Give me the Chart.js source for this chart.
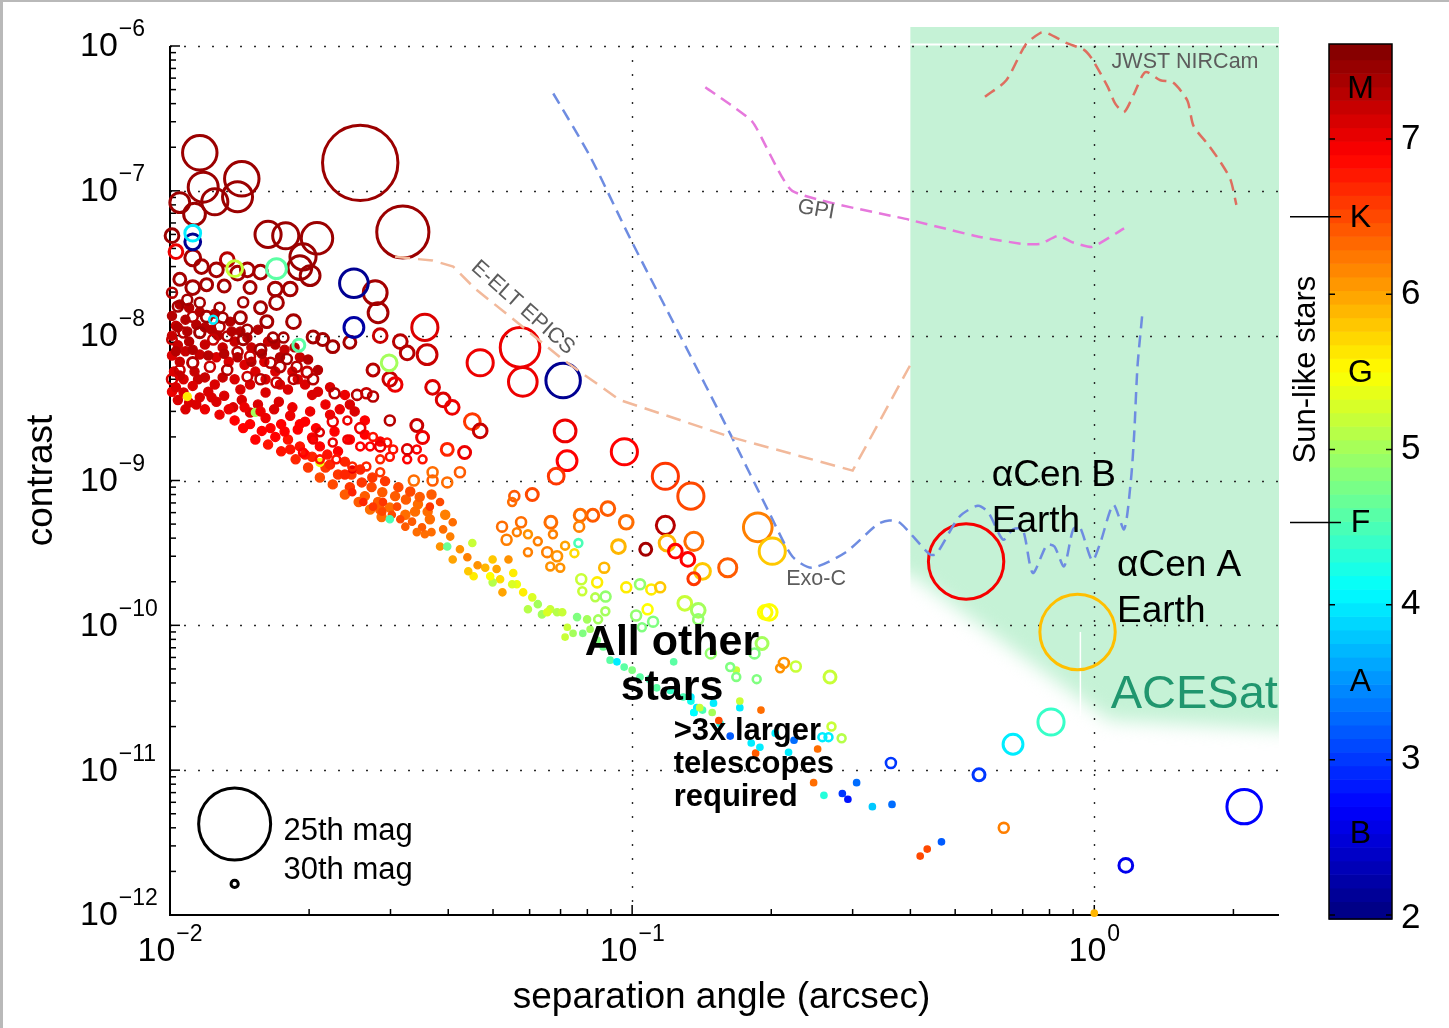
<!DOCTYPE html>
<html><head><meta charset="utf-8">
<script src="https://cdn.jsdelivr.net/npm/chart.js@4.4.1/dist/chart.umd.min.js"></script>
<style>
html,body{margin:0;padding:0;background:#fff;}
#wrap{position:relative;width:1449px;height:1028px;overflow:hidden;}
canvas{display:block;}
</style></head><body>
<div id="wrap"><canvas id="c" width="1449" height="1028" style="width:1449px;height:1028px"></canvas></div>
<script>
// ---------------- DATA ----------------
// each row: [separation (arcsec), contrast, colour index (spectral scale 2..7.6), magnitude]
const circlesM = [
[0.0116,1.83e-7,7.45,26.6],[0.0258,1.56e-7,7.45,24.9],[0.0118,1.06e-7,7.45,26.9],[0.0143,1.21e-7,7.45,26.6],
[0.0140,9.1e-8,7.45,26.9],[0.0125,8.4e-8,7.45,27.2],[0.0105,8.3e-8,7.45,27.8],[0.0113,6.9e-8,7.45,27.6],
[0.0319,5.2e-8,7.45,25.7],[0.0101,4.9e-8,7.45,28.6],[0.0163,5.0e-8,7.45,27.2],[0.0178,4.9e-8,7.45,27.2],
[0.0208,4.7e-8,7.45,26.8],[0.0194,3.5e-8,7.45,27.2],[0.0191,2.95e-8,7.45,27.4],[0.0201,2.6e-8,7.45,27.8],
[0.0112,3.45e-8,7.4,28.3],[0.0117,3.0e-8,7.4,28.6],[0.0126,2.85e-8,7.4,28.6],[0.0133,3.35e-8,7.3,28.6],
[0.0147,2.85e-8,7.4,28.6],[0.0157,2.75e-8,7.4,28.6],[0.0149,2.15e-8,7.4,28.9],[0.0140,2.7e-8,7.4,28.6],
[0.0105,2.45e-8,7.4,28.9],[0.0112,2.15e-8,7.4,28.6],[0.0120,2.25e-8,7.4,28.9],[0.0131,2.2e-8,7.4,28.9],
[0.0169,2.1e-8,7.4,28.6],[0.0182,2.1e-8,7.4,28.6],[0.0170,1.69e-8,7.4,28.6],[0.0157,1.56e-8,7.4,28.9],
[0.0144,1.7e-8,7.4,29.3],[0.0128,1.56e-8,7.4,29.3],[0.0116,1.69e-8,7.4,29.3],[0.0109,1.77e-8,7.4,29.3],
[0.0101,1.98e-8,7.3,29.3],[0.0185,1.25e-8,7.4,28.6],[0.0162,1.25e-8,7.4,28.9],[0.0142,1.33e-8,7.4,28.9],
[0.0130,1.33e-8,7.4,29.3],[0.0147,1.1e-8,7.4,29.3],[0.0167,9.7e-9,7.4,29.3],[0.0176,9.7e-9,7.4,29.3],
[0.0204,9.8e-9,7.4,28.9],[0.0214,9.4e-9,7.4,28.9],[0.0225,8.4e-9,7.4,28.9],[0.0245,9.0e-9,7.4,28.9],
[0.0278,1.98e-8,7.4,27.4],[0.0282,1.44e-8,7.4,27.8],[0.0285,1.0e-8,7.2,28.6],[0.0315,9.1e-9,7.3,28.6],
[0.0326,7.6e-9,7.3,28.6],[0.0356,1.14e-8,7.1,27.2],[0.0360,7.4e-9,7.2,27.8],[0.0299,5.0e-9,7.2,28.6],
[0.0307,4.6e-9,7.0,28.6],[0.0275,5.8e-9,7.3,28.9],[0.0370,4.4e-9,7.1,28.6],[0.0390,3.6e-9,7.1,28.6],
[0.0408,3.2e-9,7.0,28.6],[0.0469,6.5e-9,7.0,27.2],[0.0451,2.55e-9,6.6,28.3],[0.0469,2.2e-9,7.2,28.6],
[0.0434,1.56e-9,7.0,28.9],[0.0398,1.64e-9,6.7,28.9],[0.0342,2.4e-9,7.2,28.9],[0.0352,1.98e-9,7.0,28.9],
[0.0299,2.6e-9,7.3,29.3],[0.0285,1.72e-9,7.0,29.3],[0.0326,1.64e-9,7.1,29.3],[0.0370,1.14e-9,6.3,29.3],
[0.0103,3.8e-8,7.0,28.6]
];
const circlesOther = [
[0.0112,4.45e-8,2.1,28.3],[0.0250,2.3e-8,2.1,27.0],[0.0250,1.14e-8,2.2,27.8],[0.0112,5.1e-8,4.0,28.3],
[0.0124,1.29e-8,4.0,29.8],[0.0170,2.9e-8,4.6,27.8],[0.0190,8.6e-9,4.6,28.9],[0.0138,2.9e-8,5.2,28.3],
[0.0298,6.5e-9,5.0,28.3],[0.0572,8.3e-9,7.0,26.3],[0.0580,4.8e-9,7.0,27.0],[0.0709,4.9e-9,2.1,26.6],
[0.0716,2.2e-9,7.0,27.6],[0.0723,1.37e-9,6.9,27.8],[0.0962,1.58e-9,6.9,27.2],[0.0685,1.07e-9,6.6,28.3],
[0.118,1.07e-9,6.6,27.2],[0.134,7.8e-10,6.5,27.2],[0.187,4.75e-10,6.2,27.0],[0.201,3.25e-10,5.8,27.2],
[0.136,3.8e-10,6.3,28.0],[0.118,4.9e-10,7.3,28.0],[0.119,3.7e-10,5.9,28.3],[0.124,3.25e-10,6.9,28.6],
[0.132,2.85e-10,6.9,28.6],[0.142,2.36e-10,5.8,28.3],[0.136,2.1e-10,6.6,28.9],[0.161,2.5e-10,6.4,28.0],
[0.107,3.35e-10,7.4,28.9],[0.0934,3.5e-10,5.9,28.6],[0.0886,6.4e-10,6.4,28.6],[0.0971,5.15e-10,6.3,28.6],
[0.0822,5.75e-10,6.4,28.9],[0.0772,5.75e-10,6.3,28.9],[0.0768,4.8e-10,6.2,29.3],[0.0608,8.0e-10,6.5,28.9],
[0.0556,7.8e-10,6.4,29.3],[0.0550,7.1e-10,6.3,29.8],[0.0667,5.15e-10,6.3,28.9],[0.0674,4.25e-10,6.2,29.8],
[0.0575,5.15e-10,6.3,29.3],[0.0523,4.8e-10,6.3,29.3],[0.0535,3.9e-10,6.2,29.3],[0.0563,4.4e-10,6.2,29.8],
[0.0595,4.25e-10,6.1,29.8],[0.0625,3.8e-10,6.2,29.8],[0.0655,3.2e-10,6.2,29.3],[0.0595,3.2e-10,6.2,29.8],
[0.0688,3.0e-10,6.1,29.3],[0.0665,2.55e-10,6.1,29.8],[0.0699,2.5e-10,6.1,29.8],[0.0765,3.7e-10,4.5,29.8],
[0.0716,3.55e-10,6.0,29.8],[0.0750,3.15e-10,5.7,29.8],[0.0870,2.5e-10,5.9,29.3],[0.0840,1.98e-10,5.6,29.3],
[0.0776,2.08e-10,5.2,29.3],[0.0780,1.72e-10,5.2,29.8],[0.0832,1.56e-10,5.1,29.8],[0.0876,1.58e-10,4.9,29.3],
[0.0971,1.83e-10,5.6,29.3],[0.104,1.92e-10,4.9,29.3],[0.110,1.77e-10,5.6,29.3],[0.115,1.83e-10,5.8,29.3],
[0.130,1.42e-10,5.2,28.6],[0.139,1.27e-10,5.0,28.6],[0.198,1.23e-10,5.5,28.3],[0.194,1.23e-10,5.5,28.6],
[0.139,1.1e-10,4.9,29.3],[0.108,1.29e-10,5.5,29.3],[0.102,1.17e-10,4.9,29.3],[0.111,1.06e-10,4.8,29.3],
[0.105,9.7e-11,4.8,29.8],[0.0844,1.1e-10,5.0,29.8],[0.0875,1.25e-10,5.0,29.8],[0.191,7.5e-11,5.0,28.9],
[0.184,6.4e-11,4.8,29.3],[0.213,5.5e-11,6.1,29.3],[0.209,5.05e-11,6.1,29.8],[0.226,5.2e-11,5.2,29.3],
[0.163,5.15e-11,4.8,29.8],[0.168,4.4e-11,4.8,29.8],[0.186,4.25e-11,4.8,29.8],[0.148,6.4e-11,4.9,29.3],
[0.268,4.4e-11,5.2,28.9],[0.284,1.66e-11,5.1,29.8],[0.270,2.0e-11,5.2,29.8],[0.258,1.69e-11,4.0,29.8],
[0.266,1.69e-11,4.0,29.8],[0.667,1.51e-11,4.0,27.8],[0.806,2.15e-11,4.4,27.2],[0.563,9.3e-12,3.0,28.9],
[0.363,1.12e-11,3.0,29.3],[0.637,4.0e-12,6.2,29.3],[2.11,5.6e-12,2.7,26.6],[1.17,2.2e-12,2.6,28.6]
];
const alphaCen = [[0.528,2.76e-10,6.95,24.9],[0.92,9.0e-11,5.85,24.9]];
const clusterCircles = [
[0.0104,1.59e-8,7.4,29.3],[0.0112,1.35e-8,7.3,29.3],[0.0120,1.35e-8,7.4,29.1],[0.0128,1.15e-8,7.3,29.3],
[0.0133,9.9e-9,7.3,29.4],[0.0124,9.4e-9,7.2,29.3],[0.0116,1.05e-8,7.4,29.2],[0.0107,1.05e-8,7.3,29.3],
[0.0101,9.4e-9,7.2,29.4],[0.0144,9.4e-9,7.4,29.2],[0.0140,7.7e-9,7.3,29.3],[0.0149,7.2e-9,7.2,29.3],
[0.0157,8.0e-9,7.4,29.1],[0.0165,6.5e-9,7.3,29.3],[0.0173,6.1e-9,7.3,29.2],[0.0179,6.9e-9,7.4,29.3],
[0.0188,6.1e-9,7.3,29.3],[0.0198,5.6e-9,7.2,29.2],[0.0204,5.0e-9,7.3,29.3],[0.0185,5.0e-9,7.3,29.4],
[0.0170,4.75e-9,7.2,29.3],[0.0157,5.0e-9,7.3,29.3],[0.0147,5.2e-9,7.2,29.4],[0.0133,5.8e-9,7.3,29.3],
[0.0122,6.1e-9,7.2,29.3],[0.0112,6.5e-9,7.3,29.2],[0.0105,5.8e-9,7.2,29.4],[0.0101,5.0e-9,7.1,29.3],
[0.0254,3.9e-9,7.3,29.3],[0.0266,4.0e-9,7.2,29.3],[0.0275,3.8e-9,7.3,29.3],[0.0227,4.0e-9,7.3,29.3],
[0.0225,2.55e-9,7.0,29.3],[0.0242,2.6e-9,7.0,29.8],[0.0258,2.3e-9,7.0,29.3],[0.0275,2.0e-9,6.8,29.8],
[0.0295,1.83e-9,6.8,29.8],[0.0304,1.64e-9,6.8,29.8],[0.0342,1.64e-9,6.9,29.8],[0.0352,1.40e-9,6.8,29.8],
[0.0326,1.40e-9,6.9,29.8],[0.0299,1.46e-9,6.8,29.8],[0.0285,1.40e-9,6.7,29.8],[0.0271,1.72e-9,6.9,29.8],
[0.0258,1.72e-9,6.9,29.8],[0.0242,1.92e-9,7.0,29.8],[0.0225,1.83e-9,7.0,29.8],[0.0211,2.15e-9,7.1,29.8],
[0.0204,1.92e-9,7.0,29.8],[0.0194,1.56e-9,6.9,29.8],[0.0211,1.40e-9,6.8,29.8],[0.0229,1.40e-9,6.8,29.8],
[0.0248,1.25e-9,6.7,29.8],[0.0266,1.25e-9,6.7,29.8],[0.0285,1.14e-9,6.6,29.8],[0.0337,1.0e-9,6.3,29.3],
[0.0370,1.0e-9,6.4,29.3],[0.0424,1.14e-9,6.4,29.3],[0.0398,9.7e-10,6.3,29.3]
];
// faint stars, drawn as filled dots
const clusterDotsUpper = [
[0.0101,1.37e-8,7.3,29.5],[0.0103,1.17e-8,7.2,29.5],[0.0101,1.0e-8,7.2,29.5],[0.0104,8.6e-9,7.2,29.5],
[0.0101,7.3e-9,7.1,29.5],[0.0105,6.6e-9,7.2,29.5],[0.0102,5.65e-9,7.1,29.5],[0.0108,7.8e-9,7.2,29.5],
[0.0110,9.1e-9,7.3,29.5],[0.0114,1.19e-8,7.3,29.5],[0.0116,7.4e-9,7.2,29.5],[0.0119,8.7e-9,7.2,29.5],
[0.0123,1.10e-8,7.3,29.5],[0.0126,7.1e-9,7.1,29.5],[0.0130,8.3e-9,7.2,29.5],[0.0134,6.6e-9,7.1,29.5],
[0.0138,9.1e-9,7.2,29.5],[0.0142,1.07e-8,7.3,29.5],[0.0145,6.3e-9,7.1,29.5],[0.0150,8.3e-9,7.2,29.5],
[0.0153,5.65e-9,7.1,29.5],[0.0160,6.6e-9,7.1,29.5],[0.0163,9.1e-9,7.2,29.5],[0.0169,5.65e-9,7.1,29.5],
[0.0177,8.0e-9,7.2,29.5],[0.0184,5.65e-9,7.1,29.5],[0.0191,7.1e-9,7.2,29.5],[0.0196,4.6e-9,7.1,29.5],
[0.0209,4.1e-9,7.1,29.5],[0.0217,3.35e-9,7.0,29.5],[0.0233,3.1e-9,7.0,29.5],[0.0245,3.35e-9,7.1,29.5],
[0.0180,4.25e-9,7.1,29.5],[0.0161,4.05e-9,7.1,29.5],[0.0142,4.25e-9,7.1,29.5],[0.0125,4.6e-9,7.1,29.5],
[0.0115,5.0e-9,7.2,29.5],[0.0107,5.0e-9,7.1,29.5],[0.0101,4.1e-9,7.0,29.5]
];
const clusterDotsLower = [
[0.0103,4.4e-9,7.1,29.5],[0.0107,4.05e-9,7.1,29.5],[0.0112,4.5e-9,7.1,29.5],[0.0116,3.75e-9,7.1,29.5],
[0.0121,4.1e-9,7.1,29.5],[0.0126,3.5e-9,7.1,29.5],[0.0131,3.85e-9,7.1,29.5],[0.0137,3.2e-9,7.1,29.5],
[0.0143,3.6e-9,7.1,29.5],[0.0149,2.95e-9,7.1,29.5],[0.0155,3.35e-9,7.1,29.5],[0.0161,2.7e-9,7.0,29.5],
[0.0168,3.1e-9,7.1,29.5],[0.0174,2.45e-9,6.9,29.5],[0.0182,2.8e-9,7.0,29.5],[0.0189,2.25e-9,6.9,29.5],
[0.0196,2.55e-9,6.9,29.5],[0.0203,1.98e-9,6.9,29.5],[0.0211,1.72e-9,6.9,29.5],[0.0219,1.51e-9,6.8,29.5],
[0.0231,1.59e-9,6.9,29.5],[0.0239,1.35e-9,6.7,29.5],[0.0247,1.10e-9,6.6,29.5],[0.0260,9.7e-10,6.6,29.5],
[0.0273,9.0e-10,6.5,29.5],[0.0288,8.3e-10,6.4,29.5],[0.0307,7.8e-10,6.4,29.5],[0.0324,7.4e-10,6.4,29.5],
[0.0344,6.85e-10,6.3,29.5],[0.0361,6.1e-10,6.3,29.5],[0.0245,9.0e-10,6.6,29.5],[0.0264,7.8e-10,6.4,29.5],
[0.0282,7.1e-10,6.4,29.5],[0.0299,6.5e-10,6.3,29.5],[0.0149,2.45e-9,6.9,29.5],[0.0158,2.2e-9,6.9,29.5],
[0.0169,2.0e-9,6.9,29.5],[0.0180,1.92e-9,6.8,29.5],[0.0191,1.72e-9,6.8,29.5],[0.0203,1.46e-9,6.7,29.5],
[0.0217,1.23e-9,6.6,29.5],[0.0231,1.10e-9,6.6,29.5],[0.0138,2.6e-9,6.9,29.5],[0.0128,2.85e-9,7.0,29.5],
[0.0119,3.1e-9,7.0,29.5],[0.0110,3.45e-9,7.1,29.5],[0.0104,3.6e-9,7.1,29.5],[0.0163,1.77e-9,6.8,29.5],
[0.0174,1.59e-9,6.8,29.5],[0.0187,1.40e-9,6.7,29.5],[0.0199,1.23e-9,6.6,29.5],[0.0211,1.05e-9,6.5,29.5],
[0.0225,9.4e-10,6.5,29.5],[0.0239,8.0e-10,6.4,29.5],[0.0256,7.1e-10,6.4,29.5],[0.0271,6.3e-10,6.3,29.5],
[0.0287,5.6e-10,6.3,29.5],[0.0211,1.33e-9,5.4,29.8],[0.0153,2.95e-9,5.0,29.8],[0.0109,3.8e-9,5.6,29.8]
];
const clusterDotsExtra = [
[0.0105,1.64e-8,7.3,29.5],[0.0110,1.56e-8,7.3,29.5],[0.0116,1.46e-8,7.3,29.5],[0.0125,1.42e-8,7.3,29.5],
[0.0135,1.25e-8,7.3,29.5],[0.0108,1.29e-8,7.3,29.5],[0.0104,1.14e-8,7.3,29.5],[0.0109,1.07e-8,7.3,29.5],
[0.0119,1.14e-8,7.3,29.5],[0.0127,1.0e-8,7.3,29.5],[0.0136,1.07e-8,7.3,29.5],[0.0147,9.7e-9,7.3,29.5],
[0.0155,1.10e-8,7.3,29.5],[0.0169,8.7e-9,7.3,29.5],[0.0103,7.8e-9,7.3,29.5],[0.0112,8.0e-9,7.3,29.5],
[0.0121,7.3e-9,7.3,29.5],[0.0131,7.5e-9,7.3,29.5],[0.0140,7.1e-9,7.3,29.5],[0.0150,6.6e-9,7.3,29.5],
[0.0158,7.5e-9,7.3,29.5],[0.0173,7.1e-9,7.3,29.5],[0.0186,8.3e-9,7.3,29.5],[0.0199,6.85e-9,7.3,29.5],
[0.0209,5.8e-9,7.3,29.5],[0.0105,5.3e-9,7.2,29.5],[0.0113,5.65e-9,7.2,29.5],[0.0119,5.15e-9,7.2,29.5],
[0.0130,5.15e-9,7.2,29.5],[0.0138,5.0e-9,7.1,29.5],[0.0149,4.6e-9,7.1,29.5],[0.0161,5.0e-9,7.1,29.5],
[0.0173,4.6e-9,7.1,29.5],[0.0189,5.0e-9,7.1,29.5],[0.0203,3.9e-9,7.1,29.5],[0.0222,4.4e-9,7.1,29.5],
[0.0239,3.9e-9,7.0,29.5],[0.0108,3.1e-9,7.1,29.5],[0.0114,3.35e-9,7.1,29.5],[0.0123,3.75e-9,7.1,29.5],
[0.0134,3.1e-9,7.0,29.5],[0.0145,3.2e-9,7.0,29.5],[0.0157,3.0e-9,7.0,29.5],[0.0172,3.5e-9,7.1,29.5],
[0.0184,3.2e-9,7.0,29.5],[0.0201,3.0e-9,7.0,29.5],[0.0222,2.85e-9,7.0,29.5],[0.0251,3.0e-9,7.1,29.5],
[0.0264,2.6e-9,6.9,29.5],[0.0144,2.3e-9,6.9,29.5],[0.0153,1.92e-9,6.9,29.5],[0.0165,2.3e-9,6.9,29.5],
[0.0177,2.18e-9,6.9,29.5],[0.0191,2.45e-9,6.9,29.5],[0.0207,2.3e-9,6.9,29.5],[0.0227,2.18e-9,6.9,29.5],
[0.0245,1.92e-9,6.9,29.5],[0.0264,2.08e-9,6.9,29.5],[0.0285,1.86e-9,6.9,29.5],[0.0182,1.64e-9,6.8,29.5],
[0.0196,1.51e-9,6.8,29.5],[0.0222,1.29e-9,6.7,29.5],[0.0239,1.10e-9,6.7,29.5],[0.0258,1.19e-9,6.7,29.5],
[0.0274,1.05e-9,6.6,29.5],[0.0292,9.9e-10,6.6,29.5],[0.0312,9.0e-10,6.5,29.5],[0.0331,8.4e-10,6.5,29.5],
[0.0347,7.7e-10,6.4,29.5],[0.0368,8.0e-10,6.4,29.5],[0.0323,5.8e-10,6.3,29.5],[0.0339,6.1e-10,6.3,29.5],
[0.0365,5.4e-10,6.3,29.5],[0.0394,5.8e-10,6.2,29.5],[0.0285,6.3e-10,6.4,29.5]
];
const bandDots = [
[0.0595,1.29e-10,5.1,30.0],[0.0608,1.56e-10,5.3,30.0],[0.0625,1.40e-10,5.0,30.0],[0.0638,1.19e-10,5.0,30.0],
[0.0665,1.29e-10,5.2,30.0],[0.0688,1.23e-10,5.1,30.0],[0.0563,1.92e-10,5.4,30.0],[0.0581,1.69e-10,5.6,30.0],
[0.0553,2.3e-10,5.6,30.0],[0.0524,1.69e-10,6.0,30.0],[0.0540,2.85e-10,6.1,30.0],[0.0518,2.08e-10,5.7,30.0],
[0.0509,2.45e-10,6.0,30.0],[0.0499,1.98e-10,5.1,30.0],[0.0493,2.18e-10,5.5,30.0],[0.0481,2.5e-10,5.9,30.0],
[0.0463,2.6e-10,6.1,30.0],[0.0454,2.18e-10,5.6,30.0],[0.0442,2.36e-10,5.8,30.0],[0.0440,2.95e-10,6.2,30.0],
[0.0424,3.35e-10,6.1,30.0],[0.0409,2.85e-10,6.0,30.0],[0.0404,4.1e-10,6.2,30.0],[0.0390,4.6e-10,6.3,30.0],
[0.0384,3.5e-10,6.1,30.0],[0.0409,5.15e-10,6.3,30.0],[0.0368,4.4e-10,6.3,30.0],[0.0356,4.25e-10,6.3,30.0],
[0.0351,4.75e-10,6.4,30.0],[0.0342,4.4e-10,6.3,30.0],[0.0334,5.2e-10,6.4,30.0],[0.0323,4.8e-10,6.4,30.0],
[0.0315,5.4e-10,6.5,30.0],[0.0302,5.8e-10,6.5,30.0],[0.0310,6.6e-10,6.5,30.0],[0.0289,7.1e-10,6.6,30.0],
[0.0288,6.1e-10,6.5,30.0],[0.0275,6.6e-10,6.6,30.0],[0.0262,7.1e-10,6.7,30.0],[0.0248,8.3e-10,6.7,30.0],
[0.0248,1.19e-9,7.0,30.0],[0.0365,6.6e-10,6.6,30.0],[0.0384,7.1e-10,6.5,30.0],[0.0299,5.4e-10,4.5,30.0],
[0.0398,3.5e-10,4.7,30.0],[0.0451,3.7e-10,5.2,30.0],[0.0499,2.85e-10,5.8,30.0],[0.0550,1.92e-10,5.3,30.0],
[0.0655,1.23e-10,5.3,30.0],[0.0706,1.23e-10,5.2,30.0],[0.0760,1.14e-10,4.8,30.0],[0.0799,1.10e-10,5.0,30.0]
];
const blueGreenDots = [
[0.0896,5.75e-11,4.6,30.3],[0.0927,5.6e-11,4.0,30.3],[0.0961,5.15e-11,4.6,30.3],[0.100,4.9e-11,4.8,30.3],
[0.104,4.4e-11,4.6,30.3],[0.109,4.25e-11,4.5,30.3],[0.113,3.7e-11,4.6,30.3],[0.121,3.55e-11,4.4,30.3],
[0.129,3.2e-11,4.5,30.3],[0.134,3.0e-11,4.2,30.3],[0.138,2.7e-11,4.0,30.3],[0.136,2.5e-11,4.0,30.3],
[0.142,2.6e-11,4.5,30.3],[0.149,2.5e-11,5.0,30.3],[0.155,2.1e-11,4.2,30.3],[0.0724,9.7e-11,5.2,30.3],
[0.0745,8.8e-11,5.0,30.3],[0.0716,8.3e-11,5.2,30.3],[0.0782,8.8e-11,4.8,30.3],[0.0811,9.4e-11,5.0,30.3],
[0.0840,7.9e-11,4.8,30.3],[0.0866,7.1e-11,4.7,30.3],
[0.42,2.55e-12,6.5,30.3],[0.435,2.85e-12,6.5,30.3],[0.467,3.2e-12,3.2,30.3],[0.365,5.8e-12,3.3,30.3],
[0.331,5.6e-12,3.8,30.3],[0.293,6.3e-12,2.8,30.3],[0.285,6.9e-12,3.0,30.3],[0.306,8.2e-12,3.3,30.3],
[0.26,6.7e-12,4.3,30.3],[0.247,8.2e-12,6.3,30.3],[0.252,1.4e-11,6.3,30.3],[0.218,1.33e-11,4.0,30.3],
[0.224,1.61e-11,3.3,30.3],[0.19,2.6e-11,6.3,30.3],[0.171,2.7e-11,4.0,30.3],[0.154,2.2e-11,6.5,30.3],
[0.163,1.72e-11,3.2,30.3],[0.181,1.54e-11,4.0,30.3],[0.185,1.31e-11,6.4,30.3],[0.189,1.44e-11,4.0,30.3],
[0.204,1.8e-11,4.0,30.3],[0.171,3.0e-11,5.2,30.3],[0.136,2.5e-11,4.1,30.3],[0.140,2.7e-11,5.2,30.3],
[0.123,5.6e-11,4.6,30.3],[0.134,3.2e-11,4.0,30.3],[0.150,2.9e-11,4.0,30.3],[0.168,4.9e-11,5.2,30.3],
[1.0,1.03e-12,5.9,30.3]
];
// instrument contrast curves
const jwstSep = [0.58,0.645,0.71,0.764,0.79,0.87,0.95,0.99,1.07,1.11,1.16,1.22,1.29,1.39,1.48,1.59,1.64,1.76,1.87,1.97,2.03];
const jwstCon = [4.46e-7,5.8e-7,1.02e-6,1.23e-6,1.23e-6,1.05e-6,9.4e-7,8.1e-7,5.2e-7,4.0e-7,3.5e-7,4.7e-7,6.6e-7,5.8e-7,5.6e-7,4.2e-7,2.8e-7,2.1e-7,1.6e-7,1.2e-7,8.0e-8];
const gpiSep = [0.144,0.182,0.222,0.399,0.566,0.70,0.764,0.835,0.90,0.99,1.16];
const gpiCon = [5.2e-7,3.0e-7,1.0e-7,6.3e-8,4.8e-8,4.3e-8,4.3e-8,4.9e-8,4.4e-8,4.1e-8,5.5e-8];
const epicsSep = [0.0307,0.037,0.041,0.0458,0.0545,0.071,0.094,0.163,0.30,0.399];
const epicsCon = [3.5e-8,3.3e-8,3.0e-8,2.1e-8,1.35e-8,6.8e-9,3.6e-9,2.0e-9,1.17e-9,6.2e-9];
const exocSep = [0.0675,0.081,0.099,0.127,0.163,0.199,0.222,0.245,0.29,0.34,0.36,0.38,0.44,0.455,0.51,0.56,0.59,0.635,0.667,0.70,0.736,0.79,0.82,0.86,0.90,0.93,0.99,1.03,1.10,1.16,1.20,1.22,1.24,1.27];
const exocCon = [4.7e-7,1.74e-7,4.7e-8,1.0e-8,2.1e-9,5.8e-10,3.0e-10,2.5e-10,3.2e-10,5.0e-10,5.3e-10,5.1e-10,3.1e-10,3.1e-10,5.6e-10,6.7e-10,6.0e-10,3.9e-10,4.6e-10,4.6e-10,2.3e-10,3.6e-10,3.5e-10,2.55e-10,4.6e-10,4.8e-10,2.8e-10,3.7e-10,6.8e-10,4.6e-10,1.0e-9,2.1e-9,6.1e-9,1.4e-8];
// ACESat region outline (sep, contrast)
const acesatSep = [0.40,2.51,2.51,1.08,0.40];
const acesatCon = [1.35e-6,1.35e-6,1.9e-11,2.2e-11,2.25e-10];
// axes
const xMin = 0.01, xMax = 2.51, yMin = 1e-12, yMax = 1e-6;
const xDecades = [-2,-1,0];
const yDecades = [-12,-11,-10,-9,-8,-7,-6];
// colour bar
const cbMin = 2, cbMax = 7.6;
const cbTicks = [2,3,4,5,6,7];
const spectralLabels = ['B','A','F','G','K','M'];
const spectralPos = [2.53,3.51,4.53,5.5,6.5,7.33];
const sunLikeBounds = [4.53,6.5];
const legendMags = [25,30];

// ---------------- HELPERS ----------------
const FONT = '"Liberation Sans", Arial, Helvetica, sans-serif';
function c01(v){return Math.max(0,Math.min(1,v));}
function jet(v){
  const t = c01((v-cbMin)/(cbMax-cbMin));
  const r=c01(1.5-Math.abs(4*t-3)), g=c01(1.5-Math.abs(4*t-2)), b=c01(1.5-Math.abs(4*t-1));
  return 'rgb('+Math.round(r*255)+','+Math.round(g*255)+','+Math.round(b*255)+')';
}
function radiusOf(mag){ return 36*Math.pow(10,-0.2*(mag-25)); }
function pts(xs,ys){ return xs.map((x,i)=>({x:x,y:ys[i]})); }
function borderW(d){ return d.f ? 1.4 : (radiusOf(d.m)<5 ? 2.6 : 3); }
const toStar = f => r => ({x:r[0],y:r[1],t:r[2],m:r[3],f:f});

const stars = [].concat(
  [clusterDotsUpper, clusterDotsLower, clusterDotsExtra, bandDots, blueGreenDots].flat().map(toStar(true)),
  [clusterCircles, circlesM, circlesOther, alphaCen].flat().map(toStar(false)));

function expStr(e){ return e<0 ? '\u2212'+(-e) : String(e); }

const decor = {
  id:'decor',
  beforeDraw(chart){
    const ctx=chart.ctx; ctx.save();
    ctx.fillStyle='#fff'; ctx.fillRect(0,0,chart.width,chart.height);
    ctx.fillStyle='#b9b9b9'; ctx.fillRect(0,0,chart.width,2); ctx.fillRect(0,0,3,chart.height);
    ctx.restore();
  },
  beforeDatasetsDraw(chart){
    const ctx=chart.ctx, a=chart.chartArea, X=chart.scales.x, Y=chart.scales.y;
    const px=acesatSep.map(v=>X.getPixelForValue(v)), py=acesatCon.map(v=>Y.getPixelForValue(v));
    const xL=px[0], xR=px[1], yT=py[0];
    ctx.save();
    ctx.beginPath(); ctx.rect(xL,yT,xR-xL,a.bottom-yT); ctx.clip();
    ctx.filter='blur(9px)';
    ctx.fillStyle='#c5f2d6';
    ctx.beginPath();
    ctx.moveTo(xL-60,yT-60); ctx.lineTo(xR+60,yT-60); ctx.lineTo(xR+60,py[2]);
    ctx.lineTo(px[2],py[2]); ctx.lineTo(px[3],py[3]); ctx.lineTo(px[4],py[4]); ctx.lineTo(xL-60,py[4]);
    ctx.closePath(); ctx.fill();
    ctx.restore();
    // white artefact lines
    ctx.save();
    ctx.strokeStyle='#fff'; ctx.lineWidth=2;
    const yTop=Y.getPixelForValue(yMax);
    ctx.beginPath(); ctx.moveTo(xL,yTop-1.5); ctx.lineTo(xR,yTop-1.5); ctx.stroke();
    ctx.lineWidth=1.5;
    const wx=X.getPixelForValue(0.933);
    ctx.beginPath(); ctx.moveTo(wx,Y.getPixelForValue(9.0e-11)); ctx.lineTo(wx,Y.getPixelForValue(2.36e-11)); ctx.stroke();
    ctx.restore();
    // dotted grid
    ctx.save();
    ctx.strokeStyle='#2a2a2a'; ctx.lineWidth=1.4; ctx.setLineDash([2,12]);
    yDecades.forEach(e=>{ if(e===-12) return; const y=Math.round(Y.getPixelForValue(Math.pow(10,e)))+0.5;
      ctx.beginPath(); ctx.moveTo(a.left,y); ctx.lineTo(a.right,y); ctx.stroke(); });
    xDecades.forEach(e=>{ if(e===-2) return; const x=Math.round(X.getPixelForValue(Math.pow(10,e)))+0.5;
      ctx.beginPath(); ctx.moveTo(x,a.top); ctx.lineTo(x,a.bottom); ctx.stroke(); });
    ctx.restore();
    // axes
    ctx.save();
    ctx.strokeStyle='#000'; ctx.lineWidth=2;
    ctx.beginPath(); ctx.moveTo(a.left,a.top); ctx.lineTo(a.left,a.bottom); ctx.lineTo(a.right,a.bottom); ctx.stroke();
    ctx.lineWidth=1.5;
    for(let e=-12;e<=-6;e++){ for(let k=1;k<=9;k++){ const v=k*Math.pow(10,e); if(v>yMax*1.0001) break;
      const y=Y.getPixelForValue(v), len=(k===1)?10:6;
      ctx.beginPath(); ctx.moveTo(a.left,y); ctx.lineTo(a.left+len,y); ctx.stroke(); } }
    for(let e=-2;e<=0;e++){ for(let k=1;k<=9;k++){ const v=k*Math.pow(10,e); if(v>xMax) break;
      const x=X.getPixelForValue(v), len=(k===1)?10:6;
      ctx.beginPath(); ctx.moveTo(x,a.bottom); ctx.lineTo(x,a.bottom-len); ctx.stroke(); } }
    ctx.restore();
  },
  afterDatasetsDraw(chart){
    const ctx=chart.ctx, a=chart.chartArea, X=chart.scales.x, Y=chart.scales.y, CB=chart.scales.cb;
    const P=(x,y)=>[X.getPixelForValue(x),Y.getPixelForValue(y)];
    ctx.save();
    ctx.fillStyle='#000';
    // tick labels
    yDecades.forEach(e=>{
      const y=Y.getPixelForValue(Math.pow(10,e));
      ctx.font='34px '+FONT; ctx.textAlign='left'; ctx.textBaseline='middle';
      const x0=a.left-90; ctx.fillText('10',x0,y+1);
      const w=ctx.measureText('10').width;
      ctx.font='23px '+FONT; ctx.fillText(expStr(e),x0+w+1,y-16);
    });
    xDecades.forEach(e=>{
      const x=X.getPixelForValue(Math.pow(10,e));
      ctx.font='34px '+FONT; const w1=ctx.measureText('10').width;
      ctx.font='23px '+FONT; const w2=ctx.measureText(expStr(e)).width;
      const x0=x-(w1+1+w2)/2;
      ctx.textAlign='left'; ctx.textBaseline='middle';
      ctx.font='34px '+FONT; ctx.fillText('10',x0,a.bottom+37);
      ctx.font='23px '+FONT; ctx.fillText(expStr(e),x0+w1+1,a.bottom+20);
    });
    // axis titles
    ctx.font='37px '+FONT; ctx.textAlign='center'; ctx.textBaseline='middle';
    ctx.fillText('separation angle (arcsec)',(a.left+a.right)/2-3,a.bottom+83);
    ctx.save(); ctx.translate(a.left-128,(a.top+a.bottom)/2); ctx.rotate(-Math.PI/2); ctx.fillText('contrast',0,0); ctx.restore();
    // curve labels
    ctx.fillStyle='#5c5c5c'; ctx.font='21.5px '+FONT;
    let p=P(1.09,7.05e-7); ctx.textAlign='left'; ctx.textBaseline='alphabetic'; ctx.fillText('JWST NIRCam',p[0],p[1]);
    p=P(0.25,7.4e-8); ctx.save(); ctx.translate(p[0],p[1]); ctx.rotate(10*Math.PI/180); ctx.textAlign='center'; ctx.textBaseline='middle'; ctx.fillText('GPI',0,0); ctx.restore();
    p=P(0.058,1.56e-8); ctx.save(); ctx.translate(p[0],p[1]); ctx.rotate(41.5*Math.PI/180); ctx.textAlign='center'; ctx.textBaseline='middle'; ctx.fillText('E-ELT EPICS',0,0); ctx.restore();
    p=P(0.25,2.1e-10); ctx.textAlign='center'; ctx.textBaseline='middle'; ctx.fillText('Exo-C',p[0],p[1]);
    // annotations
    ctx.fillStyle='#000'; ctx.textBaseline='alphabetic';
    ctx.font='bold 43px '+FONT; ctx.textAlign='center';
    p=P(0.122,6.23e-11); ctx.fillText('All other',p[0],p[1]);
    p=P(0.122,3.04e-11); ctx.fillText('stars',p[0],p[1]);
    ctx.font='bold 31px '+FONT; ctx.textAlign='left';
    p=P(0.123,1.61e-11); ctx.fillText('>3x larger',p[0],p[1]);
    p=P(0.123,9.5e-12); ctx.fillText('telescopes',p[0],p[1]);
    p=P(0.123,5.65e-12); ctx.fillText('required',p[0],p[1]);
    ctx.font='37px '+FONT;
    p=P(0.60,9.1e-10); ctx.fillText('\u03b1Cen B',p[0],p[1]);
    p=P(0.60,4.4e-10); ctx.fillText('Earth',p[0],p[1]);
    p=P(1.12,2.18e-10); ctx.fillText('\u03b1Cen A',p[0],p[1]);
    p=P(1.12,1.06e-10); ctx.fillText('Earth',p[0],p[1]);
    ctx.fillStyle='#20966e'; ctx.font='47px '+FONT;
    p=P(1.085,2.7e-11); ctx.fillText('ACESat',p[0],p[1]);
    // size legend
    ctx.strokeStyle='#000'; ctx.fillStyle='#000';
    p=P(0.0138,4.25e-12); ctx.lineWidth=3; ctx.beginPath(); ctx.arc(p[0],p[1],radiusOf(legendMags[0]),0,Math.PI*2); ctx.stroke();
    p=P(0.0138,1.64e-12); ctx.lineWidth=3; ctx.beginPath(); ctx.arc(p[0],p[1],radiusOf(legendMags[1]),0,Math.PI*2); ctx.stroke();
    ctx.font='31px '+FONT; ctx.textAlign='left';
    p=P(0.0176,3.29e-12); ctx.fillText(legendMags[0]+'th mag',p[0],p[1]);
    p=P(0.0176,1.77e-12); ctx.fillText(legendMags[1]+'th mag',p[0],p[1]);
    // colour bar
    const bx=CB.left+50, bw=63;
    const yTop=CB.getPixelForValue(cbMax)-2, yBot=CB.getPixelForValue(cbMin)+4;
    const n=64, step=(cbMax-cbMin)/n;
    for(let i=0;i<n;i++){
      const v0=cbMin+i*step, v1=v0+step;
      let y0=CB.getPixelForValue(v1), y1=CB.getPixelForValue(v0);
      if(i===0) y1=yBot; if(i===n-1) y0=yTop;
      ctx.fillStyle=jet(v0+step/2); ctx.fillRect(bx,y0,bw,y1-y0+0.6);
    }
    ctx.strokeStyle='#000'; ctx.lineWidth=1.5; ctx.strokeRect(bx,yTop,bw,yBot-yTop);
    ctx.fillStyle='#000'; ctx.font='35px '+FONT; ctx.textAlign='left'; ctx.textBaseline='middle';
    cbTicks.forEach(v=>{ const y=CB.getPixelForValue(v);
      ctx.beginPath(); ctx.moveTo(bx,y); ctx.lineTo(bx+6,y); ctx.moveTo(bx+bw-6,y); ctx.lineTo(bx+bw,y); ctx.stroke();
      ctx.fillText(String(v),bx+bw+9,y+ (v===cbMin?3:0)); });
    ctx.font='32px '+FONT; ctx.textAlign='center';
    spectralLabels.forEach((s,i)=>{ ctx.fillText(s,bx+bw/2,CB.getPixelForValue(spectralPos[i])+1); });
    ctx.lineWidth=1.5;
    sunLikeBounds.forEach(v=>{ const y=CB.getPixelForValue(v); ctx.beginPath(); ctx.moveTo(bx-39,y); ctx.lineTo(bx+12,y); ctx.stroke(); });
    ctx.save(); ctx.translate(bx-23,CB.getPixelForValue((sunLikeBounds[0]+sunLikeBounds[1])/2)); ctx.rotate(-Math.PI/2);
    ctx.font='31px '+FONT; ctx.textAlign='center'; ctx.textBaseline='middle'; ctx.fillText('Sun-like stars',0,0); ctx.restore();
    ctx.restore();
  }
};

const lineDs = (xs,ys,color,dash,tension,order)=>({type:'line',data:pts(xs,ys),borderColor:color,borderWidth:2.5,borderDash:dash,
  pointRadius:0,pointHoverRadius:0,fill:false,tension:tension,clip:false,order:order});

new Chart(document.getElementById('c'),{
  type:'scatter',
  data:{datasets:[
    lineDs(jwstSep,jwstCon,'#de6e5f',[12,7],0.25,0),
    lineDs(gpiSep,gpiCon,'#e678dc',[12,7],0.15,0),
    lineDs(epicsSep,epicsCon,'#f2b99b',[15,8],0,0),
    lineDs(exocSep,exocCon,'#6e8ce1',[12,7],0.25,0),
    {type:'scatter',data:stars,order:1,clip:false,
      pointRadius:c=>radiusOf(c.raw.m),pointHoverRadius:c=>radiusOf(c.raw.m),
      pointBorderColor:c=>jet(c.raw.t),
      pointBackgroundColor:c=>c.raw.f?jet(c.raw.t):'rgba(0,0,0,0)',
      pointBorderWidth:c=>borderW(c.raw),
      pointHoverBorderWidth:c=>borderW(c.raw)}
  ]},
  options:{
    responsive:false, animation:false, devicePixelRatio:1,
    layout:{padding:{top:46,left:0,right:0,bottom:0}},
    plugins:{legend:{display:false},tooltip:{enabled:false}},
    events:[],
    scales:{
      x:{type:'logarithmic',min:xMin,max:xMax,position:'bottom',grid:{display:false},border:{display:false},ticks:{display:false},afterFit(s){s.height=113;}},
      y:{type:'logarithmic',min:yMin,max:yMax,position:'left',grid:{display:false},border:{display:false},ticks:{display:false},afterFit(s){s.width=170;}},
      cb:{type:'linear',axis:'y',min:cbMin,max:cbMax,position:'right',grid:{display:false},border:{display:false},ticks:{display:false},afterFit(s){s.width=170;}}
    }
  },
  plugins:[decor]
});
</script>
</body></html>
